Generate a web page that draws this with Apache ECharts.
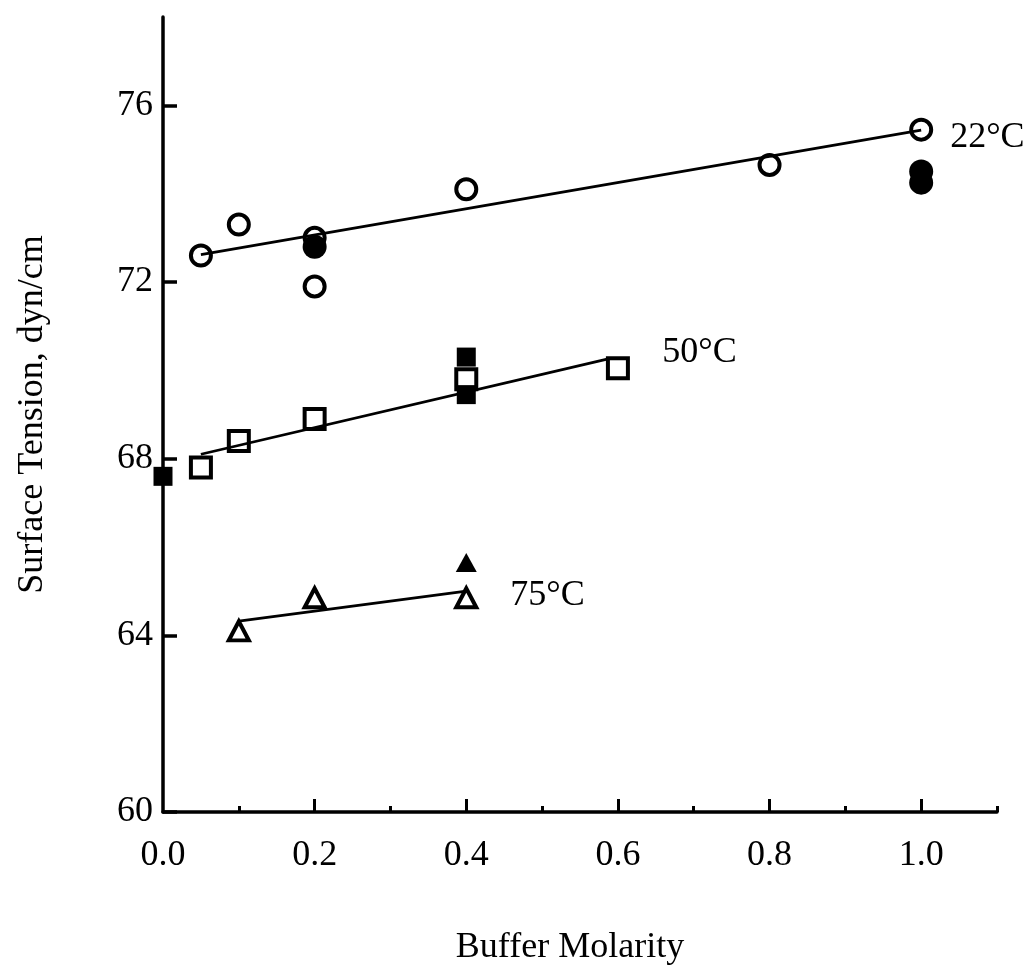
<!DOCTYPE html>
<html>
<head>
<meta charset="utf-8">
<script src="https://cdn.jsdelivr.net/npm/echarts@6/dist/echarts.min.js"></script>
<style>html,body{margin:0;padding:0;background:#fff;}#c{width:1031px;height:971px;}</style>
</head>
<body>
<div id="c"></div>
<script>
// ---- data ----
var xMajorTicks = [0, 0.2, 0.4, 0.6, 0.8, 1.0];
var xMinorTicks = [0.1, 0.3, 0.5, 0.7, 0.9, 1.1];
var yTicks = [60, 64, 68, 72, 76];

var open22 = [[0.05, 72.6], [0.1, 73.3], [0.2, 73.0], [0.2, 71.9], [0.4, 74.1], [0.8, 74.65], [1.0, 75.45]];
var filled22 = [[0.2, 72.8], [1.0, 74.5], [1.0, 74.25]];
var fit22 = [[0.05, 72.62], [1.0, 75.44]];

var open50 = [[0.05, 67.8], [0.1, 68.4], [0.2, 68.9], [0.4, 69.8], [0.6, 70.05]];
var filled50 = [[0.0, 67.6], [0.4, 70.3], [0.4, 69.45]];
var fit50 = [[0.05, 68.1], [0.59, 70.27]];

var open75 = [[0.1, 64.1], [0.2, 64.85], [0.4, 64.85]];
var filled75 = [[0.4, 65.65]];
var fit75 = [[0.1, 64.32], [0.4, 65.0]];

var labels = ['22°C', '50°C', '75°C'];

// ---- chart ----
var FONT = 'Liberation Serif';
var chart = echarts.init(document.getElementById('c'), null, {renderer: 'canvas'});

function fitLine(data, label, dist, off) {
  return {
    type: 'line', data: data, symbol: 'none', silent: true, z: 2,
    lineStyle: {color: '#000', width: 2.8, opacity: 1},
    endLabel: {show: true, formatter: label, distance: dist, offset: off,
      fontFamily: FONT, fontSize: 36, color: '#000'}
  };
}
function openSeries(data, sym, size) {
  return {type: 'scatter', data: data, symbol: sym, symbolSize: size, z: 3,
    itemStyle: {color: 'rgba(0,0,0,0)', borderColor: '#000', borderWidth: 4, opacity: 1}};
}
function filledSeries(data, sym, size) {
  return {type: 'scatter', data: data, symbol: sym, symbolSize: size, z: 3,
    itemStyle: {color: '#000', borderWidth: 0, opacity: 1}};
}

chart.setOption({
  animation: false,
  backgroundColor: '#fff',
  grid: {left: 163, right: 34, top: 17, bottom: 157},
  xAxis: [{
    type: 'value', min: 0, max: 1.1, position: 'bottom',
    name: 'Buffer Molarity', nameLocation: 'middle', nameGap: 118,
    nameTextStyle: {fontFamily: FONT, fontSize: 36, color: '#000', padding: [0, 20, 0, 0]},
    axisLine: {show: true, lineStyle: {color: '#000', width: 3.5}},
    axisTick: {show: true, inside: true, length: 13, lineStyle: {color: '#000', width: 3}, customValues: xMajorTicks.slice(1)},
    axisLabel: {show: true, margin: 26, fontFamily: FONT, fontSize: 36, color: '#000', customValues: xMajorTicks,
      formatter: function (v) { return v.toFixed(1); }},
    splitLine: {show: false}
  }, {
    type: 'value', min: 0, max: 1.1, position: 'bottom',
    axisLine: {show: false},
    axisTick: {show: true, inside: true, length: 6, lineStyle: {color: '#000', width: 3}, customValues: xMinorTicks},
    axisLabel: {show: false},
    splitLine: {show: false}
  }],
  yAxis: {
    type: 'value', min: 60, max: 78,
    name: 'Surface Tension, dyn/cm', nameLocation: 'middle', nameGap: 112, nameRotate: 90,
    nameTextStyle: {fontFamily: FONT, fontSize: 36, color: '#000'},
    axisLine: {show: true, lineStyle: {color: '#000', width: 3.5}},
    axisTick: {show: true, inside: true, length: 14, lineStyle: {color: '#000', width: 3.5}, customValues: yTicks},
    axisLabel: {show: true, margin: 10, fontFamily: FONT, fontSize: 36, color: '#000', customValues: yTicks},
    splitLine: {show: false}
  },
  series: [
    fitLine(fit22, labels[0], 29, [0, 7]),
    fitLine(fit50, labels[1], 52, [0, -6]),
    fitLine(fit75, labels[2], 44, [0, 4]),
    openSeries(open22, 'circle', 20),
    filledSeries(filled22, 'circle', 24),
    openSeries(open50, 'rect', 20),
    filledSeries(filled50, 'rect', 19),
    openSeries(open75, 'triangle', [20, 19]),
    filledSeries(filled75, 'triangle', [21, 19])
  ]
});
</script>
</body>
</html>
